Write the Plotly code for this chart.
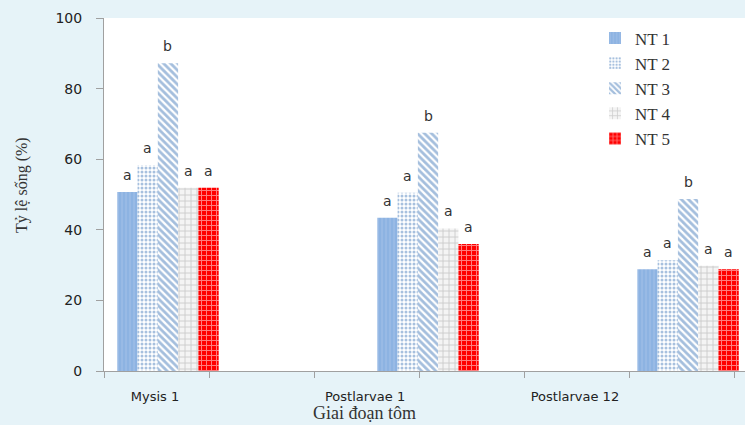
import plotly.graph_objects as go

categories = ["Mysis 1", "Postlarvae 1", "Postlarvae 12"]
series_names = ["NT 1", "NT 2", "NT 3", "NT 4", "NT 5"]
nt1 = [50.7, 43.4, 28.8]
nt2 = [58.3, 50.5, 31.4]
nt3 = [87.2, 67.5, 48.7]
nt4 = [51.9, 40.4, 29.8]
nt5 = [51.9, 36.0, 28.8]
letters_nt1 = ["a", "a", "a"]
letters_nt2 = ["a", "a", "a"]
letters_nt3 = ["b", "b", "b"]
letters_nt4 = ["a", "a", "a"]
letters_nt5 = ["a", "a", "a"]
y_ticks = [0, 20, 40, 60, 80, 100]

values = [nt1, nt2, nt3, nt4, nt5]
letters = [letters_nt1, letters_nt2, letters_nt3, letters_nt4, letters_nt5]

patterns = [
    dict(shape="|", fgcolor="#c5d8f0", bgcolor="#8db3e2", size=4, solidity=0.2),
    dict(shape=".", fgcolor="#4f81bd", bgcolor="white", size=4, solidity=0.45),
    dict(shape="\\", fgcolor="#4a7ebb", bgcolor="white", size=5, solidity=0.55),
    dict(shape="+", fgcolor="#a6a6a6", bgcolor="#f4f4f4", size=6, solidity=0.3),
    dict(shape="+", fgcolor="white", bgcolor="#ff0000", size=5, solidity=0.35),
]

bargap = 0.61
n = len(series_names)
bar_w = (1 - bargap) / n
xs = list(range(len(categories)))

fig = go.Figure()
for j in range(n):
    fig.add_trace(go.Bar(
        x=xs, y=values[j], name=series_names[j],
        marker=dict(color=patterns[j]["bgcolor"], pattern=patterns[j],
                    line=dict(width=0)),
    ))

annotations = []
for j in range(n):
    for i in xs:
        annotations.append(dict(
            x=i + (j - (n - 1) / 2) * bar_w, y=values[j][i], xref="x", yref="y",
            text=letters[j][i], showarrow=False, yshift=17,
            font=dict(family="DejaVu Sans", size=14, color="#333333"),
        ))

annotations.append(dict(
    x=0.407, y=-0.12, xref="paper", yref="paper", text="Giai đoạn tôm",
    showarrow=False, yanchor="middle",
    font=dict(family="Liberation Serif", size=18, color="#333333")))
annotations.append(dict(
    x=-0.128, y=0.527, xref="paper", yref="paper", text="Tỷ lệ sống (%)",
    showarrow=False, textangle=-90, xanchor="center",
    font=dict(family="Liberation Serif", size=16, color="#333333")))

label_pos = [-0.05, 0.758, 1.565]

fig.update_layout(
    width=745, height=425,
    margin=dict(l=104, r=0, t=18, b=54, pad=0),
    paper_bgcolor="#e6f3f8", plot_bgcolor="white",
    barmode="group", bargap=bargap, bargroupgap=0,
    showlegend=True,
    legend=dict(x=0.766, y=0.993, xanchor="left", yanchor="top",
                bgcolor="rgba(0,0,0,0)",
                font=dict(family="Liberation Serif", size=17, color="#333333"),
                itemwidth=30, tracegroupgap=0),
    xaxis=dict(range=[-0.246, 2.219], tickmode="array", tickvals=label_pos,
               ticktext=categories, ticks="", showgrid=False, zeroline=False,
               showline=True, linecolor="#a0a0a0", linewidth=1,
               ticklabelstandoff=13, automargin=False,
               tickfont=dict(family="DejaVu Sans", size=13, color="#222222"),
               minor=dict(tickmode="linear", tick0=-0.246, dtick=0.4038,
                          ticks="outside", ticklen=6, tickcolor="#a0a0a0",
                          showgrid=False)),
    yaxis=dict(range=[0, 100], tickvals=y_ticks, ticks="outside", ticklen=7,
               tickcolor="#a0a0a0", showgrid=False, zeroline=False,
               showline=True, linecolor="#a0a0a0", linewidth=1,
               automargin=False, ticklabelstandoff=11,
               tickfont=dict(family="DejaVu Sans", size=14, color="#222222")),
    annotations=annotations,
)

fig.write_html(
    "out.html",
    config={"displayModeBar": False},
    post_script="document.body.style.margin='0';"
                "document.body.style.background='#e6f3f8';",
)
